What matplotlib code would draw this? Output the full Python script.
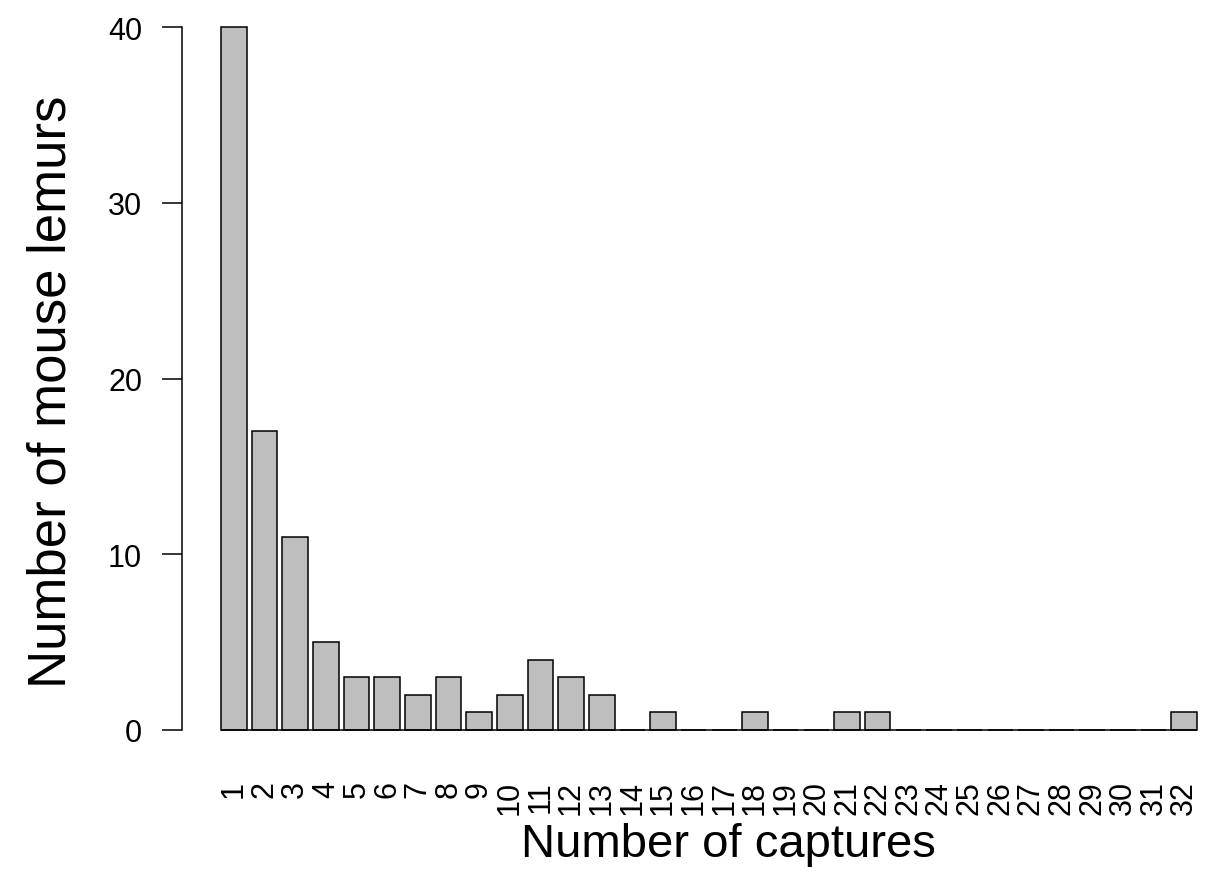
import matplotlib
matplotlib.use("Agg")
import matplotlib.pyplot as plt
import numpy as np

plt.rcParams['font.family'] = ['Liberation Sans', 'DejaVu Sans']

captures = [str(i) for i in range(1, 33)]
lemurs = [40, 17, 11, 5, 3, 3, 2, 3, 1, 2, 4, 3, 2, 0, 1, 0,
          0, 1, 0, 0, 1, 1, 0, 0, 0, 0, 0, 0, 0, 0, 0, 1]

W, H = 1214, 879
fig = plt.figure(figsize=(W / 100, H / 100), dpi=100)
ax = fig.add_axes([182 / W, 1 - 759 / H, (W - 182) / W, 759 / H])

# bar layout: width 1, space 0.2 between bars
centers = 0.7 + 1.2 * np.arange(len(lemurs))
ax.bar(centers, lemurs, width=1.0, color='#BEBEBE', edgecolor='black',
       linewidth=1.1, zorder=2)
ax.plot([centers[0] - 0.5, centers[-1] + 0.5], [0, 0], color='black',
        lw=1.1, zorder=3, solid_capstyle='butt')

ax.set_xlim(-1.33, 0.2 + (W - 221) / 25.55)
ax.set_ylim(-1.6, 41.6)

for s in ['top', 'right', 'bottom']:
    ax.spines[s].set_visible(False)
ax.spines['left'].set_bounds(0, 40)
ax.spines['left'].set_linewidth(1.1)

ax.set_yticks([0, 10, 20, 30, 40])
ax.tick_params(axis='y', direction='out', length=14.4, width=1.1,
               pad=14.4, labelsize=22)

ax.set_xticks(centers)
ax.set_xticklabels(captures, rotation=90, va='top', ha='center')
ax.tick_params(axis='x', length=0, pad=15.8, labelsize=22)

fig.text(728 / W, 1 - 845 / H, 'Number of captures', fontsize=34,
         ha='center', va='center')
fig.text(52 / W, 1 - 392 / H, 'Number of mouse lemurs', fontsize=38,
         ha='center', va='center', rotation=90)

fig.savefig('out.png', dpi=100)
